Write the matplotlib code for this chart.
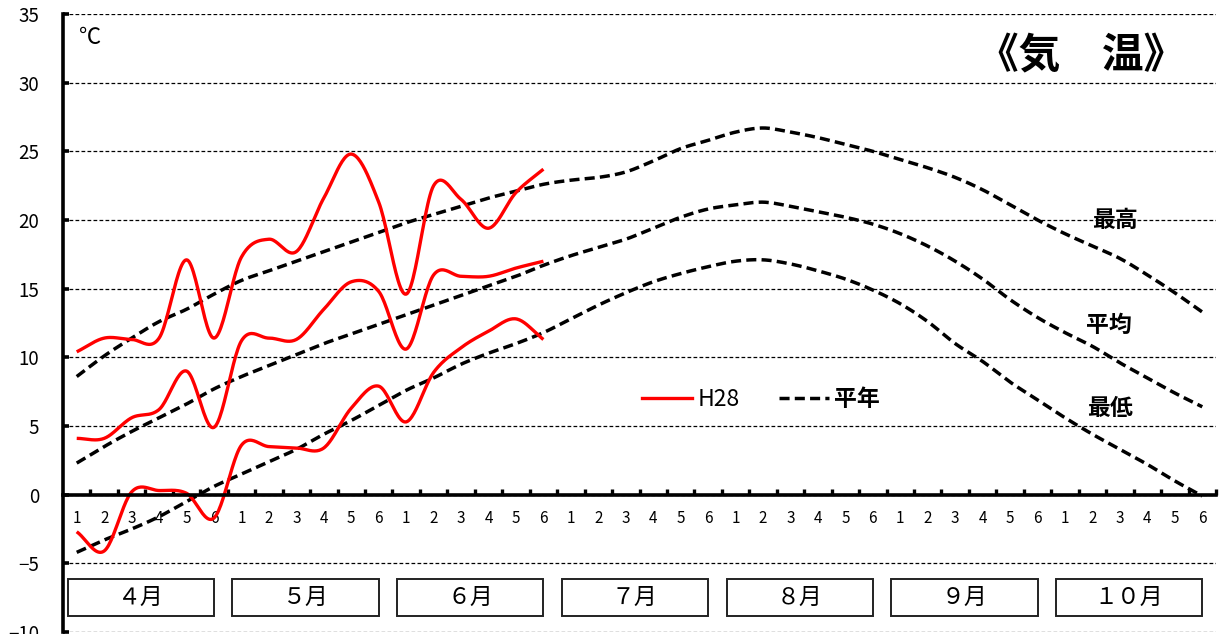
import numpy as np
import matplotlib
matplotlib.use("Agg")
import matplotlib.pyplot as plt
from matplotlib.lines import Line2D
from matplotlib.patches import Rectangle

plt.rcParams['font.family'] = ['Noto Sans CJK JP', 'DejaVu Sans']

# ---------------- data ----------------
months = ['４月', '５月', '６月', '７月', '８月', '９月', '１０月']
pentads = ['1', '2', '3', '4', '5', '6']

# H28 (4月1半旬 - 6月6半旬)
h28_max = [10.4, 11.4, 11.3, 11.4, 17.1, 11.4, 17.3, 18.6, 17.7, 21.6, 24.8, 21.3,
           14.6, 22.5, 21.5, 19.4, 22.0, 23.7]
h28_mean = [4.1, 4.1, 5.6, 6.2, 9.0, 4.9, 11.2, 11.4, 11.3, 13.5, 15.5, 14.8,
            10.6, 16.0, 15.9, 15.9, 16.5, 17.0]
h28_min = [-2.7, -4.1, 0.2, 0.3, 0.1, -1.7, 3.6, 3.5, 3.4, 3.4, 6.3, 7.9,
           5.3, 8.9, 10.7, 11.9, 12.8, 11.3]

# 平年 (4月1半旬 - 10月6半旬)
norm_max = [8.6, 10.1, 11.4, 12.6, 13.5, 14.6, 15.6, 16.3, 17.0, 17.7, 18.4, 19.1,
            19.8, 20.4, 21.0, 21.6, 22.1, 22.6, 22.9, 23.1, 23.5, 24.3, 25.2, 25.8,
            26.4, 26.7, 26.4, 26.0, 25.5, 25.0, 24.4, 23.8, 23.1, 22.2, 21.1, 20.0,
            19.0, 18.1, 17.2, 16.0, 14.7, 13.3]
norm_mean = [2.3, 3.5, 4.6, 5.6, 6.6, 7.7, 8.6, 9.4, 10.2, 11.0, 11.7, 12.4,
             13.1, 13.8, 14.5, 15.2, 15.9, 16.7, 17.4, 18.0, 18.6, 19.4, 20.2, 20.8,
             21.1, 21.3, 21.0, 20.6, 20.2, 19.7, 19.0, 18.1, 17.0, 15.7, 14.2, 12.9,
             11.8, 10.8, 9.6, 8.5, 7.4, 6.4]
norm_min = [-4.2, -3.3, -2.5, -1.6, -0.5, 0.6, 1.5, 2.4, 3.3, 4.4, 5.4, 6.5,
            7.6, 8.5, 9.5, 10.3, 11.0, 11.8, 12.8, 13.8, 14.7, 15.5, 16.1, 16.6,
            17.0, 17.1, 16.8, 16.3, 15.7, 14.9, 13.9, 12.6, 11.0, 9.7, 8.2, 6.9,
            5.6, 4.4, 3.3, 2.2, 1.0, -0.1]

yticks = [-10, -5, 0, 5, 10, 15, 20, 25, 30, 35]


def smooth(vals, n=24):
    """Catmull-Rom (Excel-like) smoothing through the data points."""
    p = np.asarray(vals, float)
    m = np.empty_like(p)
    m[1:-1] = (p[2:] - p[:-2]) / 2.0
    m[0] = (p[1] - p[0])
    m[-1] = (p[-1] - p[-2])
    xs, ys = [], []
    for i in range(len(p) - 1):
        t = np.linspace(0, 1, n, endpoint=(i == len(p) - 2))
        h00 = 2 * t**3 - 3 * t**2 + 1
        h10 = t**3 - 2 * t**2 + t
        h01 = -2 * t**3 + 3 * t**2
        h11 = t**3 - t**2
        ys.append(h00 * p[i] + h10 * m[i] + h01 * p[i + 1] + h11 * m[i + 1])
        xs.append(i + t)
    return np.concatenate(xs), np.concatenate(ys)


n_total = len(months) * len(pentads)

fig = plt.figure(figsize=(12.19, 6.34), dpi=100)
ax = fig.add_axes([63 / 1219, 2 / 634, 1153 / 1219, 618 / 634])
ax.set_xlim(-0.5, n_total - 0.5)
ax.set_ylim(-10, 35)

# grid
ax.set_axisbelow(True)
ax.yaxis.grid(True, color='black', linestyle=(0, (3, 1.8)), linewidth=0.9)
ax.xaxis.grid(False)

# spines
for s in ['top', 'right']:
    ax.spines[s].set_visible(False)
ax.spines['left'].set_linewidth(2.6)
ax.spines['bottom'].set_position(('data', 0))
ax.spines['bottom'].set_linewidth(2.6)
ax.spines['bottom'].set_zorder(5)

ax.set_yticks(yticks)
ax.set_yticklabels([str(v).replace('-', '\u2212') for v in yticks])
ax.tick_params(axis='y', direction='in', length=4, width=2.6, labelsize=13.5, pad=17)

idx = np.arange(n_total)
ax.set_xticks(idx + 0.5)
ax.set_xticklabels([])
ax.tick_params(axis='x', which='major', direction='in', length=4, width=2.4)
ax.set_xticks(idx, minor=True)
ax.set_xticklabels(pentads * len(months), minor=True)
ax.tick_params(axis='x', which='minor', length=0, labelsize=11, pad=11)

# normals
dash = (0, (2.9, 1.5))
for ser in (norm_max, norm_mean, norm_min):
    xs, ys = smooth(ser)
    ax.plot(xs, ys, color='black', linewidth=2.5, linestyle=dash, zorder=3)

# H28
for ser in (h28_max, h28_mean, h28_min):
    xs, ys = smooth(ser)
    ax.plot(xs, ys, color='#ff0000', linewidth=2.4, zorder=4, solid_capstyle='butt')

# month boxes
for k, name in enumerate(months):
    x0 = k * len(pentads)
    ax.add_patch(Rectangle((x0 - 0.33, -8.8), 5.33, 2.68, facecolor='white',
                           edgecolor='#222222', linewidth=1.4, zorder=5))
    ax.text(x0 + 2.33, -7.45, name, ha='center', va='center', fontsize=16.5, zorder=6)

# labels
ax.text(0.5, 33.3, '℃', ha='center', va='center', fontsize=16)
ax.text(36.6, 31.9, '《気\u3000温》', ha='center', va='center', fontsize=30,
        fontweight='bold')
ax.text(37.83, 20.0, '最高', ha='center', va='center', fontsize=16.5, fontweight='bold')
ax.text(37.6, 12.3, '平均', ha='center', va='center', fontsize=16.5, fontweight='bold')
ax.text(37.65, 6.3, '最低', ha='center', va='center', fontsize=16.5, fontweight='bold')

handles = [Line2D([], [], color='#ff0000', linewidth=2.4),
           Line2D([], [], color='black', linewidth=2.5, linestyle=dash)]
leg = ax.legend(handles, ['H28', '平年'], loc='center left',
                bbox_to_anchor=(20.6, 6.9), bbox_transform=ax.transData,
                ncol=2, frameon=False, fontsize=16.5, handlelength=2.15,
                handletextpad=0.25, columnspacing=1.75, borderpad=0, borderaxespad=0)
leg.get_texts()[1].set_fontweight('bold')

fig.savefig('out.png', dpi=100)
